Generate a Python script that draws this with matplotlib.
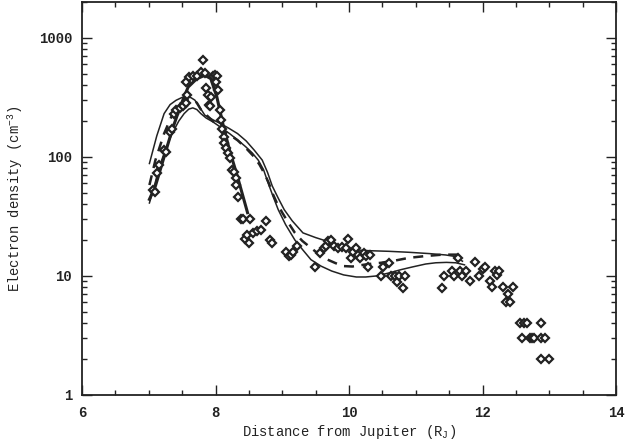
import matplotlib
matplotlib.use("Agg")
import matplotlib.pyplot as plt
from matplotlib.ticker import FixedLocator, LogLocator, NullFormatter, FixedFormatter

# measured electron densities (diamonds)
obs_x = [7.07, 7.10, 7.13, 7.16, 7.23, 7.26, 7.32, 7.35, 7.38, 7.41, 7.47, 7.52,
         7.56, 7.58, 7.56, 7.61, 7.66, 7.72, 7.78, 7.81, 7.84, 7.86, 7.89, 7.93,
         7.91, 7.92, 7.96, 7.99, 8.02, 8.00, 8.04, 8.06, 8.08, 8.09, 8.12, 8.13,
         8.16, 8.18, 8.21, 8.24, 8.27, 8.30, 8.31, 8.34, 8.38, 8.41, 8.51, 8.44,
         8.47, 8.50, 8.56, 8.62, 8.68, 8.76, 8.82, 8.85, 9.05, 9.10, 9.13, 9.16,
         9.22, 9.49, 9.56, 9.62, 9.65, 9.68, 9.73, 9.77, 9.83, 9.89, 9.95, 9.98,
         10.03, 10.06, 10.10, 10.14, 10.17, 10.22, 10.26, 10.29, 10.32, 10.48, 10.51,
         10.60, 10.63, 10.69, 10.72, 10.75, 10.81, 10.84, 11.40, 11.43, 11.55, 11.58,
         11.63, 11.67, 11.70, 11.76, 11.81, 11.89, 11.95, 12.00, 12.04, 12.11, 12.14,
         12.19, 12.22, 12.25, 12.30, 12.35, 12.38, 12.41, 12.45, 12.56, 12.62, 12.67,
         12.87, 12.59, 12.71, 12.74, 12.77, 12.87, 12.93, 12.87, 12.99]
obs_y = [53, 51, 73, 85, 114, 110, 163, 172, 231, 246, 255, 266,
         281, 329, 426, 468, 474, 474, 516, 646, 505, 382, 329, 318,
         272, 270, 474, 484, 474, 426, 363, 246, 203, 173, 148, 130,
         118, 107, 97, 78, 75, 66, 58, 46, 30, 30, 30, 20.4,
         22, 19, 23, 24, 24.5, 28.7, 20, 19, 16, 14.6, 15, 16,
         18, 12, 15.6, 17.2, 18, 19.5, 20, 17.7, 17.2, 17.5, 17.2, 20.4,
         14.2, 16, 17.2, 15.1, 14.2, 15.6, 14.6, 12, 15.1, 10, 12,
         12.9, 10, 10, 8.9, 10, 7.9, 10, 7.9, 10, 11, 10,
         14.2, 11, 10, 11, 9, 13, 10, 11.4, 12, 9, 8.1,
         11, 10.2, 11, 8.1, 6, 7, 6, 8.1, 4, 4, 4,
         4, 3, 3, 3, 3, 3, 3, 2, 2]

# fit to the data (thick solid line)
fit_x = [7.01, 7.10, 7.23, 7.35, 7.47, 7.59, 7.72, 7.84, 7.93, 8.02, 8.12, 8.21, 8.33, 8.48]
fit_y = [44, 57, 100, 168, 263, 386, 454, 484, 454, 319, 179, 114, 68, 34]

# model curves
upper_x = [7.01, 7.12, 7.23, 7.32, 7.41, 7.50, 7.56, 7.63, 7.69, 7.77, 7.84, 7.96, 8.08,
           8.20, 8.33, 8.46, 8.58, 8.70, 8.78, 8.85, 8.94, 9.03, 9.15, 9.31, 9.50,
           9.68, 9.85, 10.05, 10.30, 10.60, 10.90, 11.21, 11.45, 11.58, 11.70]
upper_y = [88, 150, 231, 275, 299, 316, 319, 315, 300, 258, 224, 205, 190,
           174, 157, 136, 114, 94, 74, 57, 45, 36, 29, 23, 21,
           19.5, 18, 16.6, 16.3, 16.1, 15.8, 15.4, 15.0, 14.6, 13.3]

dash_x = [7.01, 7.10, 7.23, 7.38, 7.47, 7.56, 7.66, 7.72, 7.78, 7.90, 8.08, 8.20,
          8.33, 8.46, 8.58, 8.66, 8.73, 8.80, 8.85, 8.92, 9.00, 9.10, 9.19, 9.30,
          9.43, 9.55, 9.68, 9.80, 9.92, 10.05, 10.17, 10.30, 10.48, 10.70, 10.90,
          11.15, 11.40, 11.70]
dash_y = [58, 94, 157, 246, 280, 299, 302, 285, 250, 215, 173, 155,
          138, 118, 100, 86, 73, 60, 50, 41, 34, 27.5, 23, 19.7,
          17.2, 15.2, 13.7, 12.8, 12.1, 12.0, 12.3, 12.6, 12.9, 13.5, 14.2,
          14.7, 15.1, 15.1]

lower_x = [7.01, 7.08, 7.16, 7.25, 7.35, 7.45, 7.53, 7.60, 7.66, 7.72, 7.78, 7.86,
           7.96, 8.08, 8.21, 8.33, 8.45, 8.55, 8.64, 8.72, 8.79, 8.86, 8.94, 9.05,
           9.19, 9.31, 9.43, 9.58, 9.74, 9.92, 10.11, 10.25, 10.41, 10.60, 10.78,
           10.95, 11.15, 11.30, 11.46, 11.60, 11.73]
lower_y = [41, 56, 83, 115, 157, 200, 231, 252, 258, 250, 231, 212,
           197, 177, 157, 139, 122, 108, 94, 78, 60, 47, 36, 27,
           20, 16.5, 13.7, 12.1, 11, 10.2, 9.8, 9.8, 10.0, 10.6, 11.3,
           11.9, 12.6, 12.9, 13.0, 12.9, 12.4]

xticks = [6, 8, 10, 12, 14]
yticks = [1, 10, 100, 1000]
ytick_labels = ["1", "10", "100", "1000"]

plt.rcParams["font.family"] = ["Liberation Mono", "DejaVu Sans Mono"]
plt.rcParams["font.weight"] = "bold"

fig = plt.figure(figsize=(6.43, 4.46), dpi=100)
ax = fig.add_axes([82 / 643, 51 / 446, 534 / 643, 393 / 446])

ax.plot(upper_x, upper_y, color="#222222", lw=1.1)
ax.plot(lower_x, lower_y, color="#222222", lw=1.1)
ax.plot(dash_x, dash_y, color="#222222", lw=1.8, dashes=(4, 3))
ax.plot(fit_x, fit_y, color="#222222", lw=2.2)
ax.plot(obs_x, obs_y, ls="none", marker="D", ms=4, mfc="white",
        mec="#222222", mew=1.6)

ax.set_yscale("log")
ax.set_xlim(6, 14)
ax.set_ylim(1, 2000)

ax.xaxis.set_major_locator(FixedLocator(xticks))
ax.xaxis.set_minor_locator(FixedLocator([6 + 0.5 * i for i in range(17)]))
ax.yaxis.set_major_locator(FixedLocator(yticks))
ax.yaxis.set_major_formatter(FixedFormatter(ytick_labels))
ax.yaxis.set_minor_locator(LogLocator(base=10, subs=range(2, 10)))
ax.yaxis.set_minor_formatter(NullFormatter())

ax.tick_params(which="both", direction="in", top=True, right=True,
               labelsize=10, color="#222222", labelcolor="#222222")
ax.tick_params(which="major", length=7, width=1.0)
ax.tick_params(which="minor", length=3.6, width=1.0)
ax.tick_params(axis="x", pad=8)
ax.tick_params(axis="y", pad=7)
for s in ax.spines.values():
    s.set_linewidth(1.3)
    s.set_color("#222222")

ax.set_xlabel("Distance from Jupiter (R$_\\mathregular{J}$)", fontsize=10,
              color="#222222", labelpad=2)
ax.set_ylabel("Electron density (cm$^\\mathregular{-3}$)", fontsize=10,
              color="#222222", labelpad=10)

fig.savefig("out.png", dpi=100)
